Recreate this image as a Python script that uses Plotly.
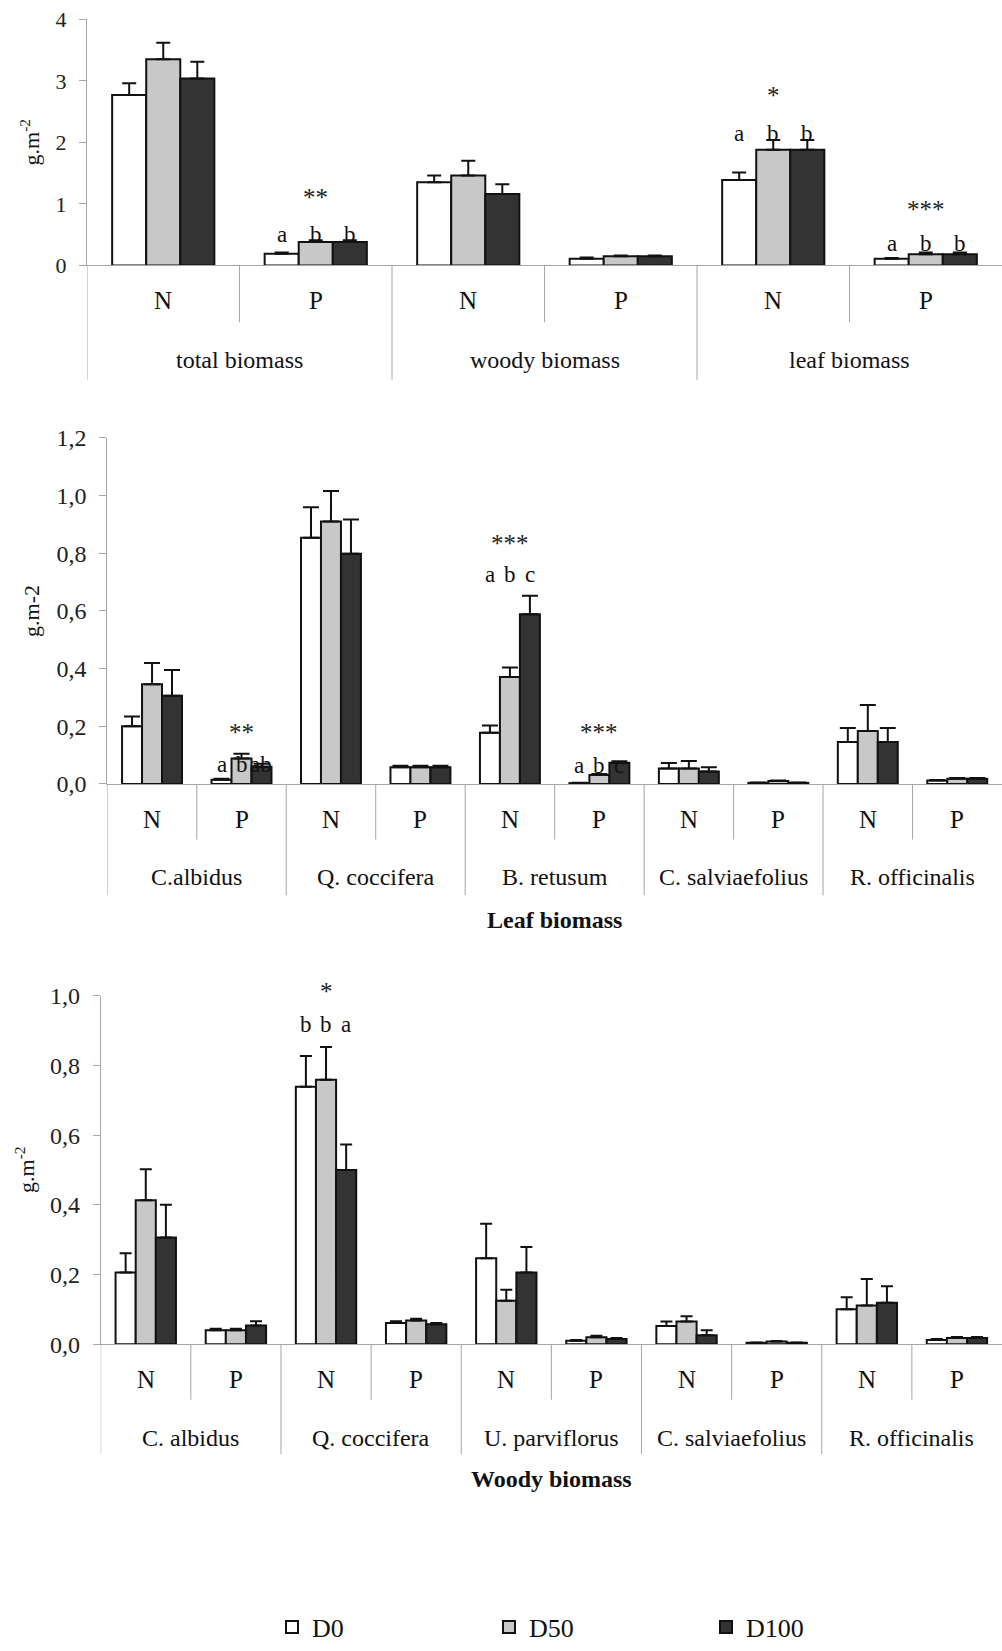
import plotly.graph_objects as go

# ---------------- data ----------------
series_names = ["D0", "D50", "D100"]

# Panel 1: compartments x element
top_groups = ["total biomass", "woody biomass", "leaf biomass"]
top_elements = ["N", "P", "N", "P", "N", "P"]
top_D0 = [2.77, 0.19, 1.35, 0.11, 1.39, 0.11]
top_D0_se = [0.19, 0.02, 0.11, 0.02, 0.12, 0.01]
top_D50 = [3.35, 0.38, 1.46, 0.15, 1.88, 0.18]
top_D50_se = [0.27, 0.03, 0.24, 0.01, 0.16, 0.03]
top_D100 = [3.04, 0.38, 1.16, 0.15, 1.88, 0.18]
top_D100_se = [0.27, 0.03, 0.16, 0.01, 0.16, 0.03]

# Panel 2: leaf biomass per species x element
leaf_species = ["C.albidus", "Q. coccifera", "B. retusum", "C. salviaefolius", "R. officinalis"]
leaf_elements = ["N", "P"] * 5
leaf_D0 = [0.200, 0.015, 0.854, 0.058, 0.178, 0.003, 0.054, 0.004, 0.146, 0.012]
leaf_D0_se = [0.034, 0.003, 0.106, 0.005, 0.025, 0.001, 0.019, 0.001, 0.048, 0.002]
leaf_D50 = [0.346, 0.088, 0.910, 0.058, 0.371, 0.031, 0.054, 0.010, 0.184, 0.018]
leaf_D50_se = [0.074, 0.017, 0.106, 0.005, 0.033, 0.004, 0.026, 0.002, 0.090, 0.003]
leaf_D100 = [0.306, 0.060, 0.798, 0.058, 0.589, 0.074, 0.043, 0.004, 0.146, 0.018]
leaf_D100_se = [0.089, 0.010, 0.119, 0.005, 0.064, 0.005, 0.015, 0.001, 0.048, 0.003]

# Panel 3: woody biomass per species x element
woody_species = ["C. albidus", "Q. coccifera", "U. parviflorus", "C. salviaefolius", "R. officinalis"]
woody_elements = ["N", "P"] * 5
woody_D0 = [0.206, 0.040, 0.739, 0.061, 0.247, 0.010, 0.052, 0.004, 0.100, 0.012]
woody_D0_se = [0.055, 0.004, 0.088, 0.005, 0.099, 0.002, 0.013, 0.001, 0.035, 0.003]
woody_D50 = [0.413, 0.040, 0.759, 0.068, 0.125, 0.020, 0.065, 0.008, 0.111, 0.018]
woody_D50_se = [0.089, 0.004, 0.094, 0.005, 0.031, 0.004, 0.015, 0.001, 0.076, 0.003]
woody_D100 = [0.306, 0.054, 0.500, 0.057, 0.206, 0.015, 0.026, 0.004, 0.119, 0.018]
woody_D100_se = [0.094, 0.012, 0.073, 0.004, 0.073, 0.003, 0.014, 0.001, 0.047, 0.003]

# significance marks: (category index, stars, star height, letters, letter height)
top_sig = [(1, "**", 1.10, ["a", "b", "b"], 0.50),
           (4, "*", 2.77, ["a", "b", "b"], 2.15),
           (5, "***", 0.91, ["a", "b", "b"], 0.35)]
leaf_sig = [(1, "**", 0.18, ["a", "b", "ab"], 0.068),
            (4, "***", 0.834, ["a", "b", "c"], 0.725),
            (5, "***", 0.18, ["a", "b", "c"], 0.065)]
woody_sig = [(2, "*", 1.012, ["b", "b", "a"], 0.918)]

# ---------------- styling ----------------
W, H = 1002, 1651
FONT = "Liberation Serif, Times New Roman, serif"
colors = ["#ffffff", "#c8c8c8", "#333333"]
AXIS_GREY = "#a6a6a6"
BARGAP = 0.33


def px_x(x):
    return x / W


def px_y(y):
    return 1 - y / H


panels = [
    dict(elements=top_elements, groups=top_groups,
         vals=[top_D0, top_D50, top_D100], ses=[top_D0_se, top_D50_se, top_D100_se],
         sig=top_sig, x0=87, ytop=19.5, ybot=267.7, yrange=[0, 4], dtick=1, fmt="d",
         tickfont=22, cap=7, lab1=303, lab2=363, short=325, long=383,
         ytitle="g.m<sup>-2</sup>", ytx=30, title=None, titley=None),
    dict(elements=leaf_elements, groups=leaf_species,
         vals=[leaf_D0, leaf_D50, leaf_D100], ses=[leaf_D0_se, leaf_D50_se, leaf_D100_se],
         sig=leaf_sig, x0=107.3, ytop=441.7, ybot=790.7, yrange=[0, 1.2], dtick=0.2, fmt=".1f",
         tickfont=24, cap=8, lab1=826.7, lab2=885, short=846.7, long=903,
         ytitle="g.m-2", ytx=32, title="Leaf biomass", titley=928),
    dict(elements=woody_elements, groups=woody_species,
         vals=[woody_D0, woody_D50, woody_D100], ses=[woody_D0_se, woody_D50_se, woody_D100_se],
         sig=woody_sig, x0=100.7, ytop=1004.3, ybot=1355.7, yrange=[0, 1.0], dtick=0.2, fmt=".1f",
         tickfont=24, cap=6, lab1=1391.7, lab2=1450, short=1411.7, long=1466.7,
         ytitle="g.m<sup>-2</sup>", ytx=25, title="Woody biomass", titley=1491.7),
]

fig = go.Figure()
annotations = []
shapes = []
layout_axes = {}
bar_w = (1 - BARGAP) / 3

for p_i, p in enumerate(panels):
    suffix = "" if p_i == 0 else str(p_i + 1)
    xname, yname = "x" + suffix, "y" + suffix
    ydom = yname + " domain"
    ymax = p["yrange"][1]
    n = len(p["elements"])
    xs = list(range(n))
    for s_i, name in enumerate(series_names):
        fig.add_trace(go.Bar(
            x=xs, y=p["vals"][s_i], name=name,
            xaxis=xname, yaxis=yname,
            marker=dict(color=colors[s_i], line=dict(color="#111111", width=2)),
            error_y=dict(type="data", array=p["ses"][s_i], arrayminus=[0] * n,
                         symmetric=False, color="#111111", thickness=2, width=p["cap"]),
            showlegend=(p_i == 0), legendgroup=name,
        ))
    layout_axes["xaxis" + suffix] = dict(
        domain=[px_x(p["x0"]), 1.0], range=[-0.5, n - 0.5], anchor=yname,
        showline=True, linecolor=AXIS_GREY, linewidth=1, showticklabels=False,
        ticks="", showgrid=False, zeroline=False, fixedrange=True, automargin=False)
    layout_axes["yaxis" + suffix] = dict(
        domain=[px_y(p["ybot"]), px_y(p["ytop"])], range=p["yrange"], anchor=xname,
        dtick=p["dtick"], tick0=0, tickformat=p["fmt"], automargin=False,
        showline=True, linecolor=AXIS_GREY, linewidth=1, ticks="outside", ticklen=7,
        tickcolor=AXIS_GREY, showgrid=False, zeroline=False, ticklabelstandoff=8,
        fixedrange=True,
        tickfont=dict(family=FONT, size=p["tickfont"], color="#222222"))

    # category labels (inner)
    for i, el in enumerate(p["elements"]):
        annotations.append(dict(x=i, y=px_y(p["lab1"]), xref=xname, yref="paper",
                                text=el, showarrow=False, xanchor="center", yanchor="middle",
                                font=dict(family=FONT, size=25, color="#111111")))
    # outer group labels
    for g_i, g in enumerate(p["groups"]):
        annotations.append(dict(x=2 * g_i + 0.5, y=px_y(p["lab2"]), xref=xname, yref="paper",
                                text=g, showarrow=False, xanchor="center", yanchor="middle",
                                font=dict(family=FONT, size=24, color="#111111")))
    # separators
    for i in range(n):
        bottom = p["long"] if i % 2 == 0 else p["short"]
        shapes.append(dict(type="line", xref=xname, yref="paper",
                           x0=i - 0.5, x1=i - 0.5, y0=px_y(p["ybot"]), y1=px_y(bottom),
                           line=dict(color=AXIS_GREY, width=1)))
    # y title
    annotations.append(dict(x=px_x(p["ytx"]), y=px_y((p["ytop"] + p["ybot"]) / 2),
                            xref="paper", yref="paper", text=p["ytitle"], textangle=-90,
                            showarrow=False, xanchor="center", yanchor="middle",
                            font=dict(family=FONT, size=22, color="#111111")))
    # panel title below
    if p["title"]:
        annotations.append(dict(x=(n - 1) / 2, y=px_y(p["titley"]), xref=xname, yref="paper",
                                text="<b>" + p["title"] + "</b>", showarrow=False,
                                xanchor="center", yanchor="middle",
                                font=dict(family=FONT, size=24, color="#111111")))
    # significance
    for (ci, stars, sy, letters, ly) in p["sig"]:
        annotations.append(dict(x=ci, y=sy / ymax, xref=xname, yref=ydom, text=stars,
                                showarrow=False, xanchor="center", yanchor="middle",
                                font=dict(family=FONT, size=25, color="#222222")))
        for k, let in enumerate(letters):
            annotations.append(dict(x=ci + (k - 1) * bar_w, y=ly / ymax, xref=xname, yref=ydom,
                                    text=let, showarrow=False, xanchor="center",
                                    yanchor="middle",
                                    font=dict(family=FONT, size=23, color="#111111")))

fig.update_layout(
    width=W, height=H,
    margin=dict(l=0, r=0, t=0, b=0, pad=0),
    paper_bgcolor="white", plot_bgcolor="white",
    barmode="group", bargap=BARGAP, bargroupgap=0,
    separators=",.",
    font=dict(family=FONT, color="#111111"),
    annotations=annotations, shapes=shapes,
    legend=dict(orientation="h", x=px_x(272), y=px_y(1641), xanchor="left",
                yanchor="middle", entrywidth=172, entrywidthmode="pixels",
                font=dict(family=FONT, size=26, color="#111111"),
                bgcolor="rgba(0,0,0,0)", traceorder="normal"),
    **layout_axes,
)

fig.write_html("out.html",
               config={"displayModeBar": False},
               post_script="document.body.style.margin='0';"
                           "document.body.style.overflow='hidden';")
